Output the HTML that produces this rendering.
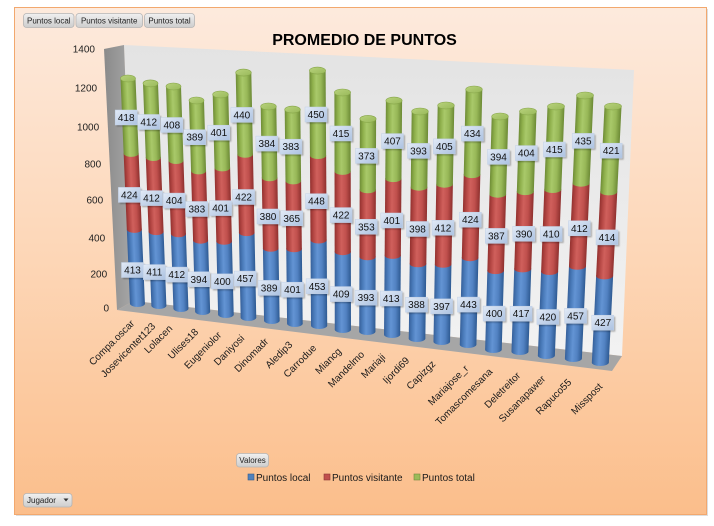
<!DOCTYPE html>
<html><head><meta charset="utf-8"><style>
html,body{margin:0;padding:0;background:#fff;}
svg{display:block;font-family:"Liberation Sans",Arial,sans-serif;}
.b{fill:url(#gb)}.r{fill:url(#gr)}.g{fill:url(#gg)}.t{fill:url(#gt);stroke:#86a548;stroke-width:.6}
.lb{fill:url(#gl);stroke:#c2d1e6;stroke-width:.5}.sh{fill:#000;opacity:.28;filter:url(#bl)}
.dl text{font-size:10px;text-anchor:middle;fill:#111}
.ax{font-size:10px;text-anchor:end;fill:#222}
.cat{font-size:10px;text-anchor:end;fill:#1a1a1a}
.btn{fill:url(#gbt);stroke:#b5b5b5;stroke-width:.8}
.bt{font-size:8px;fill:#222;text-anchor:middle}
.lg{font-size:10px;fill:#1a1a1a}
</style></head><body>
<svg width="714" height="526" viewBox="0 0 714 526" xmlns="http://www.w3.org/2000/svg">
<defs>
<linearGradient id="bg" x1="0" y1="0" x2="0" y2="1"><stop offset="0" stop-color="#fdeadd"/><stop offset="0.5" stop-color="#fdd6b6"/><stop offset="1" stop-color="#fbbe8b"/></linearGradient>
<linearGradient id="wall" x1="0" y1="0" x2="0" y2="1"><stop offset="0" stop-color="#e3e3e3"/><stop offset="1" stop-color="#f2f2f2"/></linearGradient>
<linearGradient id="side" x1="0" y1="0" x2="1" y2="0"><stop offset="0" stop-color="#8a8a8a"/><stop offset="1" stop-color="#a9a9a9"/></linearGradient>
<linearGradient id="gb" x1="0" y1="0" x2="1" y2="0"><stop offset="0" stop-color="#36609a"/><stop offset="0.2" stop-color="#4a7bba"/><stop offset="0.42" stop-color="#6394d4"/><stop offset="0.7" stop-color="#5282c2"/><stop offset="1" stop-color="#2e5a92"/></linearGradient>
<linearGradient id="gr" x1="0" y1="0" x2="1" y2="0"><stop offset="0" stop-color="#93312f"/><stop offset="0.2" stop-color="#b54744"/><stop offset="0.42" stop-color="#d0605c"/><stop offset="0.7" stop-color="#c0504d"/><stop offset="1" stop-color="#8e302e"/></linearGradient>
<linearGradient id="gg" x1="0" y1="0" x2="1" y2="0"><stop offset="0" stop-color="#6e8c36"/><stop offset="0.2" stop-color="#8fb04c"/><stop offset="0.42" stop-color="#a9c96a"/><stop offset="0.7" stop-color="#98b858"/><stop offset="1" stop-color="#6c8a35"/></linearGradient>
<linearGradient id="gt" x1="0" y1="0" x2="1" y2="1"><stop offset="0" stop-color="#b8d27c"/><stop offset="1" stop-color="#99b95a"/></linearGradient>
<linearGradient id="gl" x1="0" y1="0" x2="1" y2="1"><stop offset="0" stop-color="#e2eaf6"/><stop offset="1" stop-color="#acc2e1"/></linearGradient>
<linearGradient id="gbt" x1="0" y1="0" x2="0" y2="1"><stop offset="0" stop-color="#f0f0f0"/><stop offset="1" stop-color="#cdcdcd"/></linearGradient>
<filter id="bl" x="-20%" y="-20%" width="140%" height="140%"><feGaussianBlur stdDeviation="0.9"/></filter>
</defs>

<rect x="16" y="9" width="692" height="507" fill="#dedede"/>
<rect x="14.5" y="7.5" width="692" height="507" fill="url(#bg)" stroke="#f2a86e" stroke-width="1"/>

<rect class="btn" x="23.5" y="13.5" width="50.5" height="14" rx="3"/><text class="bt" x="48.8" y="23.5">Puntos local</text>
<rect class="btn" x="76" y="13.5" width="66.5" height="14" rx="3"/><text class="bt" x="109.2" y="23.5">Puntos visitante</text>
<rect class="btn" x="144.5" y="13.5" width="50" height="14" rx="3"/><text class="bt" x="169.5" y="23.5">Puntos total</text>

<text x="364.5" y="45" font-size="16" font-weight="bold" text-anchor="middle" fill="#000">PROMEDIO DE PUNTOS</text>

<polygon points="124,45 634,70 622,356 134,301" fill="url(#wall)"/>
<polygon points="104,49 124,45 134,301 117,310" fill="url(#side)"/>
<polygon points="134,301 622,356 612,371 117,310" fill="#a6a6a6"/>

<text class="ax" x="95" y="52.5">1400</text>
<text class="ax" x="97.1" y="91.5">1200</text>
<text class="ax" x="99.2" y="130.5">1000</text>
<text class="ax" x="101.2" y="167.5">800</text>
<text class="ax" x="103.2" y="203.5">600</text>
<text class="ax" x="105.2" y="241.5">400</text>
<text class="ax" x="107.2" y="277.5">200</text>
<text class="ax" x="109" y="311.5">0</text>

<g transform="matrix(1 0 0.0419 1 -3.29 0)"><rect class="b" x="120.5" y="229.4" width="15" height="74.1"/><ellipse class="b" cx="128" cy="303.5" rx="7.5" ry="3.5"/><rect class="r" x="120.5" y="153.4" width="15" height="76"/><ellipse class="r" cx="128" cy="229.4" rx="7.5" ry="3.5"/><rect class="g" x="120.5" y="78.5" width="15" height="74.9"/><ellipse class="g" cx="128" cy="153.4" rx="7.5" ry="3.5"/><ellipse class="t" cx="128" cy="78.5" rx="7.5" ry="3.5"/></g>
<g transform="matrix(1 0 0.0377 1 -3.145 0)"><rect class="b" x="143" y="231.6" width="15" height="73.9"/><ellipse class="b" cx="150.5" cy="305.5" rx="7.5" ry="3.5"/><rect class="r" x="143" y="157.5" width="15" height="74.1"/><ellipse class="r" cx="150.5" cy="231.6" rx="7.5" ry="3.5"/><rect class="g" x="143" y="83.4" width="15" height="74.1"/><ellipse class="g" cx="150.5" cy="157.5" rx="7.5" ry="3.5"/><ellipse class="t" cx="150.5" cy="83.4" rx="7.5" ry="3.5"/></g>
<g transform="matrix(1 0 0.0334 1 -2.89 0)"><rect class="b" x="166" y="233.8" width="15" height="74.7"/><ellipse class="b" cx="173.5" cy="308.5" rx="7.5" ry="3.5"/><rect class="r" x="166" y="160.5" width="15" height="73.3"/><ellipse class="r" cx="173.5" cy="233.8" rx="7.5" ry="3.5"/><rect class="g" x="166" y="86.5" width="15" height="74"/><ellipse class="g" cx="173.5" cy="160.5" rx="7.5" ry="3.5"/><ellipse class="t" cx="173.5" cy="86.5" rx="7.5" ry="3.5"/></g>
<g transform="matrix(1 0 0.02915 1 -2.93 0)"><rect class="b" x="189" y="240.2" width="15" height="71.3"/><ellipse class="b" cx="196.5" cy="311.5" rx="7.5" ry="3.5"/><rect class="r" x="189" y="170.9" width="15" height="69.3"/><ellipse class="r" cx="196.5" cy="240.2" rx="7.5" ry="3.5"/><rect class="g" x="189" y="100.5" width="15" height="70.4"/><ellipse class="g" cx="196.5" cy="170.9" rx="7.5" ry="3.5"/><ellipse class="t" cx="196.5" cy="100.5" rx="7.5" ry="3.5"/></g>
<g transform="matrix(1 0 0.0246 1 -2.32 0)"><rect class="b" x="212.7" y="241.3" width="15.6" height="73.2"/><ellipse class="b" cx="220.5" cy="314.5" rx="7.8" ry="3.5"/><rect class="r" x="212.7" y="167.9" width="15.6" height="73.4"/><ellipse class="r" cx="220.5" cy="241.3" rx="7.8" ry="3.5"/><rect class="g" x="212.7" y="94.5" width="15.6" height="73.4"/><ellipse class="g" cx="220.5" cy="167.9" rx="7.8" ry="3.5"/><ellipse class="t" cx="220.5" cy="94.5" rx="7.8" ry="3.5"/></g>
<g transform="matrix(1 0 0.0202 1 -1.465 0)"><rect class="b" x="235.7" y="232.6" width="15.6" height="84.9"/><ellipse class="b" cx="243.5" cy="317.5" rx="7.8" ry="3.5"/><rect class="r" x="235.7" y="154.3" width="15.6" height="78.3"/><ellipse class="r" cx="243.5" cy="232.6" rx="7.8" ry="3.5"/><rect class="g" x="235.7" y="72.6" width="15.6" height="81.7"/><ellipse class="g" cx="243.5" cy="154.3" rx="7.8" ry="3.5"/><ellipse class="t" cx="243.5" cy="72.6" rx="7.8" ry="3.5"/></g>
<g transform="matrix(1 0 0.0156 1 -1.66 0)"><rect class="b" x="260.7" y="248.3" width="15.6" height="72.2"/><ellipse class="b" cx="268.5" cy="320.5" rx="7.8" ry="3.5"/><rect class="r" x="260.7" y="177.8" width="15.6" height="70.5"/><ellipse class="r" cx="268.5" cy="248.3" rx="7.8" ry="3.5"/><rect class="g" x="260.7" y="106.5" width="15.6" height="71.3"/><ellipse class="g" cx="268.5" cy="177.8" rx="7.8" ry="3.5"/><ellipse class="t" cx="268.5" cy="106.5" rx="7.8" ry="3.5"/></g>
<g transform="matrix(1 0 0.0111 1 -1.21 0)"><rect class="b" x="284.7" y="248.8" width="15.6" height="74.7"/><ellipse class="b" cx="292.5" cy="323.5" rx="7.8" ry="3.5"/><rect class="r" x="284.7" y="180.9" width="15.6" height="67.9"/><ellipse class="r" cx="292.5" cy="248.8" rx="7.8" ry="3.5"/><rect class="g" x="284.7" y="109.6" width="15.6" height="71.3"/><ellipse class="g" cx="292.5" cy="180.9" rx="7.8" ry="3.5"/><ellipse class="t" cx="292.5" cy="109.6" rx="7.8" ry="3.5"/></g>
<g transform="matrix(1 0 0.0063 1 -0.444 0)"><rect class="b" x="309.4" y="240" width="16.2" height="85.5"/><ellipse class="b" cx="317.5" cy="325.5" rx="8.1" ry="3.5"/><rect class="r" x="309.4" y="155.5" width="16.2" height="84.5"/><ellipse class="r" cx="317.5" cy="240" rx="8.1" ry="3.5"/><rect class="g" x="309.4" y="70.6" width="16.2" height="84.9"/><ellipse class="g" cx="317.5" cy="155.5" rx="8.1" ry="3.5"/><ellipse class="t" cx="317.5" cy="70.6" rx="8.1" ry="3.5"/></g>
<g transform="matrix(1 0 0.0016 1 -0.148 0)"><rect class="b" x="334.4" y="251.7" width="16.2" height="77.8"/><ellipse class="b" cx="342.5" cy="329.5" rx="8.1" ry="3.5"/><rect class="r" x="334.4" y="171.4" width="16.2" height="80.3"/><ellipse class="r" cx="342.5" cy="251.7" rx="8.1" ry="3.5"/><rect class="g" x="334.4" y="92.5" width="16.2" height="78.9"/><ellipse class="g" cx="342.5" cy="171.4" rx="8.1" ry="3.5"/><ellipse class="t" cx="342.5" cy="92.5" rx="8.1" ry="3.5"/></g>
<g transform="matrix(1 0 -0.0032 1 0.383 0)"><rect class="b" x="359.9" y="256.8" width="16.2" height="74.7"/><ellipse class="b" cx="368" cy="331.5" rx="8.1" ry="3.5"/><rect class="r" x="359.9" y="189.8" width="16.2" height="67"/><ellipse class="r" cx="368" cy="256.8" rx="8.1" ry="3.5"/><rect class="g" x="359.9" y="118.9" width="16.2" height="70.9"/><ellipse class="g" cx="368" cy="189.8" rx="8.1" ry="3.5"/><ellipse class="t" cx="368" cy="118.9" rx="8.1" ry="3.5"/></g>
<g transform="matrix(1 0 -0.0081 1 0.816 0)"><rect class="b" x="385.9" y="255.4" width="16.2" height="79.1"/><ellipse class="b" cx="394" cy="334.5" rx="8.1" ry="3.5"/><rect class="r" x="385.9" y="178.6" width="16.2" height="76.8"/><ellipse class="r" cx="394" cy="255.4" rx="8.1" ry="3.5"/><rect class="g" x="385.9" y="100.6" width="16.2" height="78"/><ellipse class="g" cx="394" cy="178.6" rx="8.1" ry="3.5"/><ellipse class="t" cx="394" cy="100.6" rx="8.1" ry="3.5"/></g>
<g transform="matrix(1 0 -0.01305 1 1.455 0)"><rect class="b" x="411.7" y="263.8" width="16.6" height="74.7"/><ellipse class="b" cx="420" cy="338.5" rx="8.3" ry="3.5"/><rect class="r" x="411.7" y="187.2" width="16.6" height="76.6"/><ellipse class="r" cx="420" cy="263.8" rx="8.3" ry="3.5"/><rect class="g" x="411.7" y="111.5" width="16.6" height="75.7"/><ellipse class="g" cx="420" cy="187.2" rx="8.3" ry="3.5"/><ellipse class="t" cx="420" cy="111.5" rx="8.3" ry="3.5"/></g>
<g transform="matrix(1 0 -0.01794 1 1.893 0)"><rect class="b" x="437.7" y="264.3" width="16.6" height="77.2"/><ellipse class="b" cx="446" cy="341.5" rx="8.3" ry="3.5"/><rect class="r" x="437.7" y="184.2" width="16.6" height="80.1"/><ellipse class="r" cx="446" cy="264.3" rx="8.3" ry="3.5"/><rect class="g" x="437.7" y="105.5" width="16.6" height="78.7"/><ellipse class="g" cx="446" cy="184.2" rx="8.3" ry="3.5"/><ellipse class="t" cx="446" cy="105.5" rx="8.3" ry="3.5"/></g>
<g transform="matrix(1 0 -0.02316 1 2.073 0)"><rect class="b" x="465.7" y="257.7" width="16.6" height="86.8"/><ellipse class="b" cx="474" cy="344.5" rx="8.3" ry="3.5"/><rect class="r" x="465.7" y="174.6" width="16.6" height="83.1"/><ellipse class="r" cx="474" cy="257.7" rx="8.3" ry="3.5"/><rect class="g" x="465.7" y="89.5" width="16.6" height="85.1"/><ellipse class="g" cx="474" cy="174.6" rx="8.3" ry="3.5"/><ellipse class="t" cx="474" cy="89.5" rx="8.3" ry="3.5"/></g>
<g transform="matrix(1 0 -0.0282 1 3.285 0)"><rect class="b" x="491.7" y="270.6" width="16.6" height="78.9"/><ellipse class="b" cx="500" cy="349.5" rx="8.3" ry="3.5"/><rect class="r" x="491.7" y="194.2" width="16.6" height="76.4"/><ellipse class="r" cx="500" cy="270.6" rx="8.3" ry="3.5"/><rect class="g" x="491.7" y="116.5" width="16.6" height="77.7"/><ellipse class="g" cx="500" cy="194.2" rx="8.3" ry="3.5"/><ellipse class="t" cx="500" cy="116.5" rx="8.3" ry="3.5"/></g>
<g transform="matrix(1 0 -0.03347 1 3.732 0)"><rect class="b" x="519.5" y="268.9" width="17" height="82.6"/><ellipse class="b" cx="528" cy="351.5" rx="8.5" ry="3.5"/><rect class="r" x="519.5" y="191.6" width="17" height="77.3"/><ellipse class="r" cx="528" cy="268.9" rx="8.5" ry="3.5"/><rect class="g" x="519.5" y="111.5" width="17" height="80.1"/><ellipse class="g" cx="528" cy="191.6" rx="8.5" ry="3.5"/><ellipse class="t" cx="528" cy="111.5" rx="8.5" ry="3.5"/></g>
<g transform="matrix(1 0 -0.03873 1 4.125 0)"><rect class="b" x="547.5" y="271.5" width="17" height="84"/><ellipse class="b" cx="556" cy="355.5" rx="8.5" ry="3.5"/><rect class="r" x="547.5" y="189.5" width="17" height="82"/><ellipse class="r" cx="556" cy="271.5" rx="8.5" ry="3.5"/><rect class="g" x="547.5" y="106.5" width="17" height="83"/><ellipse class="g" cx="556" cy="189.5" rx="8.5" ry="3.5"/><ellipse class="t" cx="556" cy="106.5" rx="8.5" ry="3.5"/></g>
<g transform="matrix(1 0 -0.04411 1 4.213 0)"><rect class="b" x="576.5" y="266.3" width="17" height="92.2"/><ellipse class="b" cx="585" cy="358.5" rx="8.5" ry="3.5"/><rect class="r" x="576.5" y="183.2" width="17" height="83.1"/><ellipse class="r" cx="585" cy="266.3" rx="8.5" ry="3.5"/><rect class="g" x="576.5" y="95.5" width="17" height="87.7"/><ellipse class="g" cx="585" cy="183.2" rx="8.5" ry="3.5"/><ellipse class="t" cx="585" cy="95.5" rx="8.5" ry="3.5"/></g>
<g transform="matrix(1 0 -0.0495 1 5.272 0)"><rect class="b" x="604.5" y="275.9" width="17" height="86.6"/><ellipse class="b" cx="613" cy="362.5" rx="8.5" ry="3.5"/><rect class="r" x="604.5" y="191.9" width="17" height="84"/><ellipse class="r" cx="613" cy="275.9" rx="8.5" ry="3.5"/><rect class="g" x="604.5" y="106.5" width="17" height="85.4"/><ellipse class="g" cx="613" cy="191.9" rx="8.5" ry="3.5"/><ellipse class="t" cx="613" cy="106.5" rx="8.5" ry="3.5"/></g>

<g class="dl">
<g transform="translate(132.5 270)"><rect class="sh" x="-9.5" y="-6" width="22" height="15"/><rect class="lb" x="-11" y="-7.5" width="22" height="15"/><text y="3.5">413</text></g>
<g transform="translate(129.4 194.9)"><rect class="sh" x="-9.5" y="-6" width="22" height="15"/><rect class="lb" x="-11" y="-7.5" width="22" height="15"/><text y="3.5">424</text></g>
<g transform="translate(126.2 117.5)"><rect class="sh" x="-9.5" y="-6" width="22" height="15"/><rect class="lb" x="-11" y="-7.5" width="22" height="15"/><text y="3.5">418</text></g>
<g transform="translate(154.3 272.1)"><rect class="sh" x="-9.5" y="-6" width="22" height="15"/><rect class="lb" x="-11" y="-7.5" width="22" height="15"/><text y="3.5">411</text></g>
<g transform="translate(151.5 198.1)"><rect class="sh" x="-9.5" y="-6" width="22" height="15"/><rect class="lb" x="-11" y="-7.5" width="22" height="15"/><text y="3.5">412</text></g>
<g transform="translate(148.7 122)"><rect class="sh" x="-9.5" y="-6" width="22" height="15"/><rect class="lb" x="-11" y="-7.5" width="22" height="15"/><text y="3.5">412</text></g>
<g transform="translate(176.7 274.6)"><rect class="sh" x="-9.5" y="-6" width="22" height="15"/><rect class="lb" x="-11" y="-7.5" width="22" height="15"/><text y="3.5">412</text></g>
<g transform="translate(174.2 200.6)"><rect class="sh" x="-9.5" y="-6" width="22" height="15"/><rect class="lb" x="-11" y="-7.5" width="22" height="15"/><text y="3.5">404</text></g>
<g transform="translate(171.8 125)"><rect class="sh" x="-9.5" y="-6" width="22" height="15"/><rect class="lb" x="-11" y="-7.5" width="22" height="15"/><text y="3.5">408</text></g>
<g transform="translate(198.8 279.3)"><rect class="sh" x="-9.5" y="-6" width="22" height="15"/><rect class="lb" x="-11" y="-7.5" width="22" height="15"/><text y="3.5">394</text></g>
<g transform="translate(196.8 209)"><rect class="sh" x="-9.5" y="-6" width="22" height="15"/><rect class="lb" x="-11" y="-7.5" width="22" height="15"/><text y="3.5">383</text></g>
<g transform="translate(194.7 137.2)"><rect class="sh" x="-9.5" y="-6" width="22" height="15"/><rect class="lb" x="-11" y="-7.5" width="22" height="15"/><text y="3.5">389</text></g>
<g transform="translate(222.4 281.4)"><rect class="sh" x="-9.5" y="-6" width="22" height="15"/><rect class="lb" x="-11" y="-7.5" width="22" height="15"/><text y="3.5">400</text></g>
<g transform="translate(220.6 208.1)"><rect class="sh" x="-9.5" y="-6" width="22" height="15"/><rect class="lb" x="-11" y="-7.5" width="22" height="15"/><text y="3.5">401</text></g>
<g transform="translate(218.8 132.7)"><rect class="sh" x="-9.5" y="-6" width="22" height="15"/><rect class="lb" x="-11" y="-7.5" width="22" height="15"/><text y="3.5">401</text></g>
<g transform="translate(245.2 278.6)"><rect class="sh" x="-9.5" y="-6" width="22" height="15"/><rect class="lb" x="-11" y="-7.5" width="22" height="15"/><text y="3.5">457</text></g>
<g transform="translate(243.6 197)"><rect class="sh" x="-9.5" y="-6" width="22" height="15"/><rect class="lb" x="-11" y="-7.5" width="22" height="15"/><text y="3.5">422</text></g>
<g transform="translate(241.9 114.9)"><rect class="sh" x="-9.5" y="-6" width="22" height="15"/><rect class="lb" x="-11" y="-7.5" width="22" height="15"/><text y="3.5">440</text></g>
<g transform="translate(269.1 287.9)"><rect class="sh" x="-9.5" y="-6" width="22" height="15"/><rect class="lb" x="-11" y="-7.5" width="22" height="15"/><text y="3.5">389</text></g>
<g transform="translate(268 216.5)"><rect class="sh" x="-9.5" y="-6" width="22" height="15"/><rect class="lb" x="-11" y="-7.5" width="22" height="15"/><text y="3.5">380</text></g>
<g transform="translate(266.9 143.6)"><rect class="sh" x="-9.5" y="-6" width="22" height="15"/><rect class="lb" x="-11" y="-7.5" width="22" height="15"/><text y="3.5">384</text></g>
<g transform="translate(292.5 289.7)"><rect class="sh" x="-9.5" y="-6" width="22" height="15"/><rect class="lb" x="-11" y="-7.5" width="22" height="15"/><text y="3.5">401</text></g>
<g transform="translate(291.7 218.3)"><rect class="sh" x="-9.5" y="-6" width="22" height="15"/><rect class="lb" x="-11" y="-7.5" width="22" height="15"/><text y="3.5">365</text></g>
<g transform="translate(290.9 146.7)"><rect class="sh" x="-9.5" y="-6" width="22" height="15"/><rect class="lb" x="-11" y="-7.5" width="22" height="15"/><text y="3.5">383</text></g>
<g transform="translate(317.1 286.3)"><rect class="sh" x="-9.5" y="-6" width="22" height="15"/><rect class="lb" x="-11" y="-7.5" width="22" height="15"/><text y="3.5">453</text></g>
<g transform="translate(316.5 201.2)"><rect class="sh" x="-9.5" y="-6" width="22" height="15"/><rect class="lb" x="-11" y="-7.5" width="22" height="15"/><text y="3.5">448</text></g>
<g transform="translate(316 114.5)"><rect class="sh" x="-9.5" y="-6" width="22" height="15"/><rect class="lb" x="-11" y="-7.5" width="22" height="15"/><text y="3.5">450</text></g>
<g transform="translate(341.2 294.1)"><rect class="sh" x="-9.5" y="-6" width="22" height="15"/><rect class="lb" x="-11" y="-7.5" width="22" height="15"/><text y="3.5">409</text></g>
<g transform="translate(341.1 215.1)"><rect class="sh" x="-9.5" y="-6" width="22" height="15"/><rect class="lb" x="-11" y="-7.5" width="22" height="15"/><text y="3.5">422</text></g>
<g transform="translate(341 133.5)"><rect class="sh" x="-9.5" y="-6" width="22" height="15"/><rect class="lb" x="-11" y="-7.5" width="22" height="15"/><text y="3.5">415</text></g>
<g transform="translate(366 297.7)"><rect class="sh" x="-9.5" y="-6" width="22" height="15"/><rect class="lb" x="-11" y="-7.5" width="22" height="15"/><text y="3.5">393</text></g>
<g transform="translate(366.3 226.8)"><rect class="sh" x="-9.5" y="-6" width="22" height="15"/><rect class="lb" x="-11" y="-7.5" width="22" height="15"/><text y="3.5">353</text></g>
<g transform="translate(366.5 155.9)"><rect class="sh" x="-9.5" y="-6" width="22" height="15"/><rect class="lb" x="-11" y="-7.5" width="22" height="15"/><text y="3.5">373</text></g>
<g transform="translate(391.2 298.5)"><rect class="sh" x="-9.5" y="-6" width="22" height="15"/><rect class="lb" x="-11" y="-7.5" width="22" height="15"/><text y="3.5">413</text></g>
<g transform="translate(391.8 220.5)"><rect class="sh" x="-9.5" y="-6" width="22" height="15"/><rect class="lb" x="-11" y="-7.5" width="22" height="15"/><text y="3.5">401</text></g>
<g transform="translate(392.5 141.1)"><rect class="sh" x="-9.5" y="-6" width="22" height="15"/><rect class="lb" x="-11" y="-7.5" width="22" height="15"/><text y="3.5">407</text></g>
<g transform="translate(416.5 304.7)"><rect class="sh" x="-9.5" y="-6" width="22" height="15"/><rect class="lb" x="-11" y="-7.5" width="22" height="15"/><text y="3.5">388</text></g>
<g transform="translate(417.5 229)"><rect class="sh" x="-9.5" y="-6" width="22" height="15"/><rect class="lb" x="-11" y="-7.5" width="22" height="15"/><text y="3.5">398</text></g>
<g transform="translate(418.5 150.9)"><rect class="sh" x="-9.5" y="-6" width="22" height="15"/><rect class="lb" x="-11" y="-7.5" width="22" height="15"/><text y="3.5">393</text></g>
<g transform="translate(441.6 306.4)"><rect class="sh" x="-9.5" y="-6" width="22" height="15"/><rect class="lb" x="-11" y="-7.5" width="22" height="15"/><text y="3.5">397</text></g>
<g transform="translate(443 227.8)"><rect class="sh" x="-9.5" y="-6" width="22" height="15"/><rect class="lb" x="-11" y="-7.5" width="22" height="15"/><text y="3.5">412</text></g>
<g transform="translate(444.4 146.4)"><rect class="sh" x="-9.5" y="-6" width="22" height="15"/><rect class="lb" x="-11" y="-7.5" width="22" height="15"/><text y="3.5">405</text></g>
<g transform="translate(468.5 304.6)"><rect class="sh" x="-9.5" y="-6" width="22" height="15"/><rect class="lb" x="-11" y="-7.5" width="22" height="15"/><text y="3.5">443</text></g>
<g transform="translate(470.4 219.7)"><rect class="sh" x="-9.5" y="-6" width="22" height="15"/><rect class="lb" x="-11" y="-7.5" width="22" height="15"/><text y="3.5">424</text></g>
<g transform="translate(472.4 133.6)"><rect class="sh" x="-9.5" y="-6" width="22" height="15"/><rect class="lb" x="-11" y="-7.5" width="22" height="15"/><text y="3.5">434</text></g>
<g transform="translate(494.1 313.6)"><rect class="sh" x="-9.5" y="-6" width="22" height="15"/><rect class="lb" x="-11" y="-7.5" width="22" height="15"/><text y="3.5">400</text></g>
<g transform="translate(496.3 235.9)"><rect class="sh" x="-9.5" y="-6" width="22" height="15"/><rect class="lb" x="-11" y="-7.5" width="22" height="15"/><text y="3.5">387</text></g>
<g transform="translate(498.5 156.9)"><rect class="sh" x="-9.5" y="-6" width="22" height="15"/><rect class="lb" x="-11" y="-7.5" width="22" height="15"/><text y="3.5">394</text></g>
<g transform="translate(521.1 313.7)"><rect class="sh" x="-9.5" y="-6" width="22" height="15"/><rect class="lb" x="-11" y="-7.5" width="22" height="15"/><text y="3.5">417</text></g>
<g transform="translate(523.8 233.8)"><rect class="sh" x="-9.5" y="-6" width="22" height="15"/><rect class="lb" x="-11" y="-7.5" width="22" height="15"/><text y="3.5">390</text></g>
<g transform="translate(526.4 153.1)"><rect class="sh" x="-9.5" y="-6" width="22" height="15"/><rect class="lb" x="-11" y="-7.5" width="22" height="15"/><text y="3.5">404</text></g>
<g transform="translate(547.9 317)"><rect class="sh" x="-9.5" y="-6" width="22" height="15"/><rect class="lb" x="-11" y="-7.5" width="22" height="15"/><text y="3.5">420</text></g>
<g transform="translate(551.2 234)"><rect class="sh" x="-9.5" y="-6" width="22" height="15"/><rect class="lb" x="-11" y="-7.5" width="22" height="15"/><text y="3.5">410</text></g>
<g transform="translate(554.4 149.5)"><rect class="sh" x="-9.5" y="-6" width="22" height="15"/><rect class="lb" x="-11" y="-7.5" width="22" height="15"/><text y="3.5">415</text></g>
<g transform="translate(575.6 315.9)"><rect class="sh" x="-9.5" y="-6" width="22" height="15"/><rect class="lb" x="-11" y="-7.5" width="22" height="15"/><text y="3.5">457</text></g>
<g transform="translate(579.4 228.3)"><rect class="sh" x="-9.5" y="-6" width="22" height="15"/><rect class="lb" x="-11" y="-7.5" width="22" height="15"/><text y="3.5">412</text></g>
<g transform="translate(583.2 140.9)"><rect class="sh" x="-9.5" y="-6" width="22" height="15"/><rect class="lb" x="-11" y="-7.5" width="22" height="15"/><text y="3.5">435</text></g>
<g transform="translate(602.8 322.7)"><rect class="sh" x="-9.5" y="-6" width="22" height="15"/><rect class="lb" x="-11" y="-7.5" width="22" height="15"/><text y="3.5">427</text></g>
<g transform="translate(607 237.4)"><rect class="sh" x="-9.5" y="-6" width="22" height="15"/><rect class="lb" x="-11" y="-7.5" width="22" height="15"/><text y="3.5">414</text></g>
<g transform="translate(611.2 150.7)"><rect class="sh" x="-9.5" y="-6" width="22" height="15"/><rect class="lb" x="-11" y="-7.5" width="22" height="15"/><text y="3.5">421</text></g>
</g>

<text class="cat" transform="translate(135 324) rotate(-45)">Compa.oscar</text>
<text class="cat" transform="translate(156 326.8) rotate(-45)">Josevicentet123</text>
<text class="cat" transform="translate(173 329.1) rotate(-45)">Lolacen</text>
<text class="cat" transform="translate(199 332.6) rotate(-45)">Ulises18</text>
<text class="cat" transform="translate(222 335.7) rotate(-45)">Eugeniolor</text>
<text class="cat" transform="translate(245 338.9) rotate(-45)">Daniyosi</text>
<text class="cat" transform="translate(269 342.1) rotate(-45)">Dinomadr</text>
<text class="cat" transform="translate(293 345.3) rotate(-45)">Aledip3</text>
<text class="cat" transform="translate(317 348.6) rotate(-45)">Carrodue</text>
<text class="cat" transform="translate(342 351.9) rotate(-45)">Miancg</text>
<text class="cat" transform="translate(365 355.1) rotate(-45)">Mandelmo</text>
<text class="cat" transform="translate(386 357.9) rotate(-45)">Mariaji</text>
<text class="cat" transform="translate(410 361.1) rotate(-45)">Ijordi69</text>
<text class="cat" transform="translate(436 364.6) rotate(-45)">Capizgz</text>
<text class="cat" transform="translate(469 369.1) rotate(-45)">Mariajose_r</text>
<text class="cat" transform="translate(493 372.3) rotate(-45)">Tomascomesana</text>
<text class="cat" transform="translate(521 376.1) rotate(-45)">Deletreitor</text>
<text class="cat" transform="translate(546 379.5) rotate(-45)">Susanapawer</text>
<text class="cat" transform="translate(572 383) rotate(-45)">Rapuco55</text>
<text class="cat" transform="translate(603 387.2) rotate(-45)">Misspost</text>

<rect class="btn" x="236.5" y="453.5" width="32" height="13.5" rx="3"/><text class="bt" x="252.5" y="463.2">Valores</text>

<rect x="248" y="474" width="6" height="6" fill="#4f81bd" stroke="#385d8a" stroke-width=".6"/><text class="lg" x="256" y="481">Puntos local</text>
<rect x="324" y="474" width="6" height="6" fill="#c0504d" stroke="#8c3836" stroke-width=".6"/><text class="lg" x="332" y="481">Puntos visitante</text>
<rect x="414" y="474" width="6" height="6" fill="#9bbb59" stroke="#71893f" stroke-width=".6"/><text class="lg" x="422" y="481">Puntos total</text>

<rect class="btn" x="23.5" y="493.5" width="48.5" height="13.5" rx="3"/><text x="27" y="503.2" font-size="8" fill="#222">Jugador</text>
<polygon points="63.5,498.5 68.5,498.5 66,501.5" fill="#333"/>
</svg>
</body></html>
